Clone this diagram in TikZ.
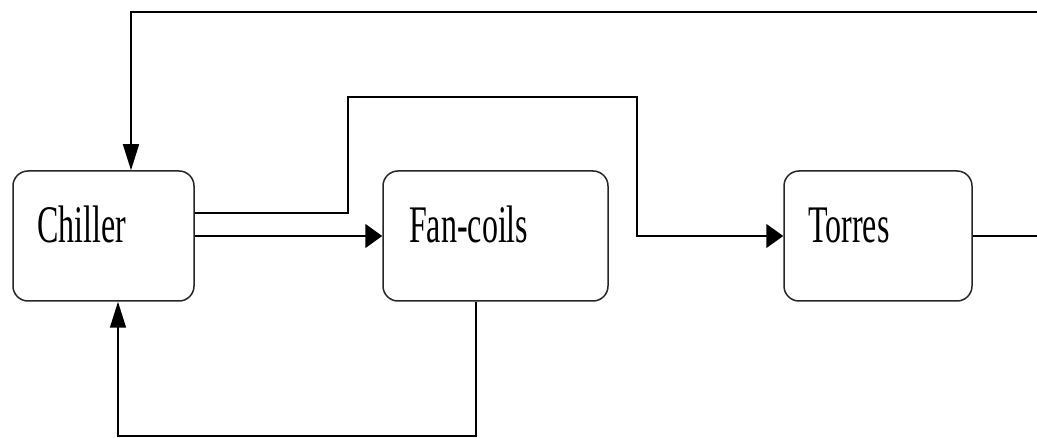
\documentclass[tikz,border=0pt]{standalone}
\usepackage{fontspec}
\setmainfont{Liberation Serif}
\usetikzlibrary{arrows.meta}
\begin{document}
\begin{tikzpicture}[x=1pt, y=-1pt,
  unit/.style={draw=black!85, line width=1.5pt, rounded corners=15pt,
    minimum height=130pt, inner sep=0pt, fill=white},
  lbl/.style={anchor=base west, inner sep=0pt,
    font=\fontsize{32}{36}\selectfont},
  flow/.style={line width=1.6pt, draw=black},
  harrow/.style={flow, -{Triangle[length=17pt, width=24pt]}},
  varrow/.style={flow, -{Triangle[length=26pt, width=16pt]}}]
  \useasboundingbox (0,0) rectangle (1037,438);

  % units
  \node[unit, minimum width=181pt] (chiller)  at (103.5,236) {};
  \node[unit, minimum width=225pt] (fancoils) at (495.5,236) {};
  \node[unit, minimum width=188pt] (torres)   at (878,236)   {};

  % names, set tall and narrow
  \node[lbl] (chillerlbl)  at (37,243)  {\scalebox{1}[1.65]{Chiller}};
  \node[lbl] (fancoilslbl) at (409,243) {\scalebox{1}[1.65]{Fan-coils}};
  \node[lbl] (torreslbl)   at (808,243) {\scalebox{1}[1.65]{Torres}};

  % bends and open ends
  \coordinate (ret)  at (1045,12);
  \coordinate (out)  at (1045,236);
  \coordinate (up1)  at (348,97);
  \coordinate (up2)  at (637,97);
  \coordinate (lowL) at (118,436);

  % return from the towers into the chiller
  \draw[varrow] (ret) -| ([xshift=27.5pt]chiller.north);
  \draw[flow] (torres.east) -- (out);

  % chiller to towers
  \draw[harrow] ([yshift=23pt]chiller.east) -| (up1) -- (up2) |- (torres.west);

  % chiller to fan-coils
  \draw[harrow] (chiller.east) -- (fancoils.west);

  % fan-coils back to chiller
  \draw[varrow] ([xshift=-19.5pt]fancoils.south) |- (lowL)
    -- ([xshift=14.5pt]chiller.south);
\end{tikzpicture}
\end{document}
